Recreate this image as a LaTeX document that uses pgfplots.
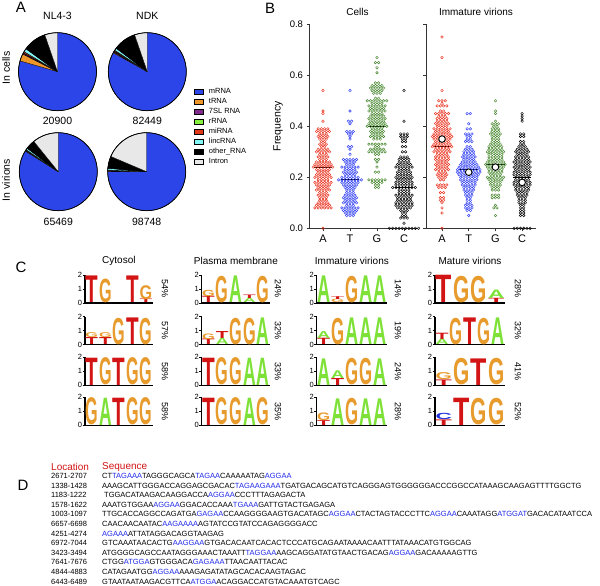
\documentclass[border=0pt]{standalone}
\usepackage{fontspec}
\setmainfont{Liberation Sans}
\usepackage{graphicx}
\usepackage{pgfplots}
\pgfplotsset{compat=1.18}
\definecolor{cmrna}{RGB}{43,69,233}
\definecolor{ctrna}{RGB}{238,150,40}
\definecolor{c7sl}{RGB}{128,40,140}
\definecolor{crrna}{RGB}{130,240,60}
\definecolor{cmirna}{RGB}{225,55,25}
\definecolor{clinc}{RGB}{130,245,245}
\definecolor{cintron}{RGB}{232,232,232}
\definecolor{sred}{RGB}{232,48,28}
\definecolor{sblue}{RGB}{45,60,240}
\definecolor{sgreen}{RGB}{70,135,45}
\definecolor{lgT}{RGB}{210,20,20}
\definecolor{lgG}{RGB}{232,155,45}
\definecolor{lgA}{RGB}{125,225,55}
\definecolor{lgC}{RGB}{30,50,220}
\definecolor{seqblue}{RGB}{30,40,230}
\definecolor{hdred}{RGB}{210,20,20}
\newcommand\B[1]{\textcolor{seqblue}{#1}}
\newcommand\logoL[1]{\resizebox*{#1}{\hh\dimexpr14pt\relax}{\color{lg\ltr}\bfseries\ltr}}
\pgfplotsset{
 /pgf/number format/assume math mode=true,
 pie/.style={x=39pt,y=39pt,xmin=-1,xmax=1,ymin=-1,ymax=1,hide axis,clip=false,clip mode=individual,anchor=origin},
 wedge/.style={fill=#1, draw=black, line width=0.35pt, line join=round, data cs=polar, mark=none, forget plot},
 bee/.style={only marks, mark=o, mark size=1.3pt, color=#1, mark options={line width=0.45pt, draw=#1}},
 med/.style={black, line width=0.9pt, mark=none},
 logo/.style n args={3}{at={(#1)}, anchor=south west, scale only axis, width=#2, height=28pt,
   xmin=0, xmax=#3, ymin=0, ymax=2, axis x line=bottom, axis y line=left,
   axis line style={-, line width=1.1pt, black}, xtick=\empty, ytick={0,1,2},
   tick align=outside, major tick length=2.5pt, tick style={line width=0.8pt, black},
   yticklabel style={font=\fontsize{7.5}{7.5}\selectfont, inner sep=0.3pt}, clip=false},
 letters/.style={draw=none, mark=none, nodes near coords={\logoL{#1}},
   visualization depends on={value \thisrow{h}\as\hh},
   visualization depends on={value \thisrow{l}\as\ltr},
   every node near coord/.append style={inner sep=0pt, outer sep=0pt, anchor=south}},
 freq/.style={scale only axis, height=204pt, ymin=0, ymax=0.8,
   axis x line=bottom, axis y line=left, axis line style={-, line width=0.9pt, black!80},
   xtick={0,1,2,3}, xticklabels={A,T,G,C}, ytick={0,0.2,0.4,0.6,0.8},
   tick align=outside, major tick length=3pt, tick style={line width=0.8pt, black!80},
   x tick label style={font=\fontsize{11}{12}\selectfont},
   y tick label style={font=\fontsize{9.5}{10}\selectfont}, clip=false, anchor=south west}
}
\begin{document}
\begin{tikzpicture}[x=1pt,y=1pt]
\useasboundingbox (0pt,0pt) rectangle (600pt,586pt);
% ---------------- Panel A ----------------
\node[font=\fontsize{15}{16}\selectfont] at (21pt,579pt) {A};
\node[font=\fontsize{10.5}{12}\selectfont] at (57.5pt,570.3pt) {NL4-3};
\node[font=\fontsize{10.5}{12}\selectfont] at (147.3pt,570.3pt) {NDK};
\node[font=\fontsize{10.5}{12}\selectfont, rotate=90] at (6pt,518pt) {In cells};
\node[font=\fontsize{10.5}{12}\selectfont, rotate=90] at (6pt,406pt) {In virions};
\node[font=\fontsize{10.5}{12}\selectfont] at (57.5pt,465.3pt) {20900};
\node[font=\fontsize{10.5}{12}\selectfont] at (147.3pt,465.3pt) {82449};
\node[font=\fontsize{10.5}{12}\selectfont] at (58.3pt,364.3pt) {65469};
\node[font=\fontsize{10.5}{12}\selectfont] at (146.7pt,364.3pt) {98748};

\begin{axis}[pie, at={(57.5pt,514.3pt)}]
\addplot[only marks, mark=*, mark size=39pt, mark options={fill=cmrna, draw=none}, forget plot] coordinates {(0,0)};
\addplot[wedge=ctrna] coordinates {(0,0) (164,1) (158.5,1) (153,1) (0,0)};
\addplot[wedge=c7sl] coordinates {(0,0) (153,1) (151.5,1) (0,0)};
\addplot[wedge=crrna] coordinates {(0,0) (151.5,1) (151,1) (0,0)};
\addplot[wedge=cmirna] coordinates {(0,0) (151,1) (149,1) (0,0)};
\addplot[wedge=clinc] coordinates {(0,0) (149,1) (144,1) (0,0)};
\addplot[wedge=black] coordinates {(0,0) (144,1) (135,1) (126,1) (117,1) (109,1) (0,0)};
\addplot[wedge=cintron] coordinates {(0,0) (109,1) (99.5,1) (90,1) (0,0)};
\addplot[only marks, mark=o, mark size=39pt, mark options={draw=black, line width=0.7pt}, forget plot] coordinates {(0,0)};
\end{axis}

\begin{axis}[pie, at={(147.3pt,514.3pt)},
  legend image code/.code={\draw[#1,draw=black,line width=0.4pt](0pt,-2.5pt) rectangle (9.4pt,2.5pt);},
  legend cell align=left,
  legend style={at={(axis description cs:1.09,0.29)}, anchor=north west, draw=none, fill=none,
    inner sep=0pt, row sep=3pt, font=\fontsize{7.5}{8}\selectfont,
    nodes={inner sep=0pt, text height=5.5pt, text depth=1.5pt},
    /tikz/every odd column/.append style={column sep=5.6pt}}]
\addplot[only marks, mark=*, mark size=39pt, mark options={fill=cmrna, draw=none}, forget plot] coordinates {(0,0)};
\addplot[wedge=ctrna] coordinates {(0,0) (151,1) (149.5,1) (0,0)};
\addplot[wedge=c7sl] coordinates {(0,0) (149.5,1) (148.5,1) (0,0)};
\addplot[wedge=crrna] coordinates {(0,0) (148.5,1) (148,1) (0,0)};
\addplot[wedge=cmirna] coordinates {(0,0) (148,1) (146.5,1) (0,0)};
\addplot[wedge=clinc] coordinates {(0,0) (146.5,1) (143,1) (0,0)};
\addplot[wedge=black] coordinates {(0,0) (143,1) (134,1) (126,1) (117,1) (109,1) (0,0)};
\addplot[wedge=cintron] coordinates {(0,0) (109,1) (99.5,1) (90,1) (0,0)};
\addplot[only marks, mark=o, mark size=39pt, mark options={draw=black, line width=0.7pt}, forget plot] coordinates {(0,0)};
\addlegendimage{fill=cmrna}\addlegendentry{mRNA}
\addlegendimage{fill=ctrna}\addlegendentry{tRNA}
\addlegendimage{fill=c7sl}\addlegendentry{7SL RNA}
\addlegendimage{fill=crrna}\addlegendentry{rRNA}
\addlegendimage{fill=cmirna}\addlegendentry{miRNA}
\addlegendimage{fill=clinc}\addlegendentry{lincRNA}
\addlegendimage{fill=black}\addlegendentry{other\_RNA}
\addlegendimage{fill=cintron}\addlegendentry{Intron}
\end{axis}

\begin{axis}[pie, at={(58.3pt,414.3pt)}]
\addplot[only marks, mark=*, mark size=39pt, mark options={fill=cmrna, draw=none}, forget plot] coordinates {(0,0)};
\addplot[wedge=ctrna] coordinates {(0,0) (148,1) (147.5,1) (0,0)};
\addplot[wedge=c7sl] coordinates {(0,0) (147.5,1) (147,1) (0,0)};
\addplot[wedge=crrna] coordinates {(0,0) (147,1) (146,1) (0,0)};
\addplot[wedge=cmirna] coordinates {(0,0) (146,1) (145.5,1) (0,0)};
\addplot[wedge=clinc] coordinates {(0,0) (145.5,1) (143,1) (0,0)};
\addplot[wedge=black] coordinates {(0,0) (143,1) (136,1) (129,1) (0,0)};
\addplot[wedge=cintron] coordinates {(0,0) (129,1) (120,1) (110,1) (100,1) (90,1) (0,0)};
\addplot[only marks, mark=o, mark size=39pt, mark options={draw=black, line width=0.7pt}, forget plot] coordinates {(0,0)};
\end{axis}

\begin{axis}[pie, at={(146.7pt,414.3pt)}]
\addplot[only marks, mark=*, mark size=39pt, mark options={fill=cmrna, draw=none}, forget plot] coordinates {(0,0)};
\addplot[wedge=ctrna] coordinates {(0,0) (180,1) (179,1) (0,0)};
\addplot[wedge=c7sl] coordinates {(0,0) (179,1) (178.5,1) (0,0)};
\addplot[wedge=crrna] coordinates {(0,0) (178.5,1) (178,1) (0,0)};
\addplot[wedge=cmirna] coordinates {(0,0) (178,1) (177.5,1) (0,0)};
\addplot[wedge=clinc] coordinates {(0,0) (177.5,1) (175,1) (0,0)};
\addplot[wedge=black] coordinates {(0,0) (175,1) (166,1) (157,1) (0,0)};
\addplot[wedge=cintron] coordinates {(0,0) (157,1) (147,1) (137,1) (127,1) (117,1) (107,1) (97,1) (90,1) (0,0)};
\addplot[only marks, mark=o, mark size=39pt, mark options={draw=black, line width=0.7pt}, forget plot] coordinates {(0,0)};
\end{axis}

% ---------------- Panel B ----------------
\node[font=\fontsize{15}{16}\selectfont] at (270pt,578pt) {B};
\node[font=\fontsize{10}{12}\selectfont] at (357.5pt,574pt) {Cells};
\node[font=\fontsize{10}{12}\selectfont] at (476pt,574pt) {Immature virions};

\begin{axis}[freq, at={(309.5pt,357.7pt)}, width=108pt, xmin=-0.5, xmax=3.5,
  yticklabels={0.0,0.2,0.4,0.6,0.8}, ylabel={Frequency},
  ylabel style={font=\fontsize{10.5}{12}\selectfont}]
\addplot[bee=sred] table[row sep=\\, x expr=0+0.12*\thisrow{d}, y=y] {d y\\
0 .54\\0 .46\\0 .45\\0 .42\\
-1.5 .39\\-.5 .39\\.5 .39\\1.5 .39\\
-2 .38\\-1 .38\\0 .38\\1 .38\\2 .38\\
-1 .37\\0 .37\\1 .37\\
-1.5 .36\\-.5 .36\\.5 .36\\1.5 .36\\
-1 .35\\0 .35\\1 .35\\
-.5 .34\\.5 .34\\
-1 .33\\0 .33\\1 .33\\
-.5 .32\\.5 .32\\
-1.5 .31\\-.5 .31\\.5 .31\\1.5 .31\\
-2 .30\\-1 .30\\0 .30\\1 .30\\2 .30\\
-1 .29\\0 .29\\1 .29\\
-1.5 .28\\-.5 .28\\.5 .28\\1.5 .28\\
-1 .27\\0 .27\\1 .27\\
-2 .26\\-1 .26\\0 .26\\1 .26\\2 .26\\
-2.5 .25\\-1.5 .25\\-.5 .25\\.5 .25\\1.5 .25\\2.5 .25\\
-3 .24\\-2 .24\\-1 .24\\0 .24\\1 .24\\2 .24\\3 .24\\
-2 .23\\-1 .23\\0 .23\\1 .23\\2 .23\\
-1.5 .22\\-.5 .22\\.5 .22\\1.5 .22\\
-2 .21\\-1 .21\\0 .21\\1 .21\\2 .21\\
-2.5 .20\\-1.5 .20\\-.5 .20\\.5 .20\\1.5 .20\\2.5 .20\\
-1.5 .19\\-.5 .19\\.5 .19\\1.5 .19\\
-2.5 .18\\-1.5 .18\\-.5 .18\\.5 .18\\1.5 .18\\2.5 .18\\
-2 .17\\-1 .17\\0 .17\\1 .17\\2 .17\\
-1.5 .16\\-.5 .16\\.5 .16\\1.5 .16\\
-2 .15\\-1 .15\\0 .15\\1 .15\\2 .15\\
-1 .14\\0 .14\\1 .14\\
-1.5 .13\\-.5 .13\\.5 .13\\1.5 .13\\
-1 .12\\0 .12\\1 .12\\
-1 .11\\0 .11\\1 .11\\
-1.5 .10\\-.5 .10\\.5 .10\\1.5 .10\\
-2 .09\\-1 .09\\0 .09\\1 .09\\2 .09\\
-2.5 .08\\-1.5 .08\\-.5 .08\\.5 .08\\1.5 .08\\2.5 .08\\
0 0\\};
\addplot[bee=sblue] table[row sep=\\, x expr=1+0.12*\thisrow{d}, y=y] {d y\\
0 .54\\0 .46\\-.5 .42\\.5 .42\\0 .41\\
-1 .38\\0 .38\\1 .38\\
-.5 .37\\.5 .37\\
0 .36\\0 .35\\
-.5 .32\\.5 .32\\0 .31\\0 .29\\
-2 .27\\-1 .27\\0 .27\\1 .27\\2 .27\\
-1.5 .26\\-.5 .26\\.5 .26\\1.5 .26\\
-1 .25\\0 .25\\1 .25\\
-2.5 .24\\-1.5 .24\\-.5 .24\\.5 .24\\1.5 .24\\2.5 .24\\
-1.5 .23\\-.5 .23\\.5 .23\\1.5 .23\\
-2 .22\\-1 .22\\0 .22\\1 .22\\2 .22\\
-1.5 .21\\-.5 .21\\.5 .21\\1.5 .21\\
-2.5 .20\\-1.5 .20\\-.5 .20\\.5 .20\\1.5 .20\\2.5 .20\\
-3.5 .19\\-2.5 .19\\-1.5 .19\\-.5 .19\\.5 .19\\1.5 .19\\2.5 .19\\3.5 .19\\
-2.5 .18\\-1.5 .18\\-.5 .18\\.5 .18\\1.5 .18\\2.5 .18\\
-2 .17\\-1 .17\\0 .17\\1 .17\\2 .17\\
-1.5 .16\\-.5 .16\\.5 .16\\1.5 .16\\
-1 .15\\0 .15\\1 .15\\
-1 .14\\0 .14\\1 .14\\
-1.5 .13\\-.5 .13\\.5 .13\\1.5 .13\\
-2 .12\\-1 .12\\0 .12\\1 .12\\2 .12\\
-1.5 .11\\-.5 .11\\.5 .11\\1.5 .11\\
-2 .10\\-1 .10\\0 .10\\1 .10\\2 .10\\
-1 .09\\0 .09\\1 .09\\
-2.5 .08\\-1.5 .08\\-.5 .08\\.5 .08\\1.5 .08\\2.5 .08\\
-2 .07\\-1 .07\\0 .07\\1 .07\\2 .07\\
-1.5 .06\\-.5 .06\\.5 .06\\1.5 .06\\
-1 .05\\0 .05\\1 .05\\};
\addplot[bee=sgreen] table[row sep=\\, x expr=2+0.12*\thisrow{d}, y=y] {d y\\
0 .67\\-.5 .65\\.5 .65\\0 .63\\0 .61\\
-.5 .57\\.5 .57\\
-1.5 .56\\-.5 .56\\.5 .56\\1.5 .56\\
-2 .55\\-1 .55\\0 .55\\1 .55\\2 .55\\
-1.5 .54\\-.5 .54\\.5 .54\\1.5 .54\\
-1 .53\\0 .53\\1 .53\\
-.5 .51\\.5 .51\\
-3 .50\\-2 .50\\-1 .50\\0 .50\\1 .50\\2 .50\\3 .50\\
-1.5 .49\\-.5 .49\\.5 .49\\1.5 .49\\
-2.5 .48\\-1.5 .48\\-.5 .48\\.5 .48\\1.5 .48\\2.5 .48\\
-2 .47\\-1 .47\\0 .47\\1 .47\\2 .47\\
-2.5 .46\\-1.5 .46\\-.5 .46\\.5 .46\\1.5 .46\\2.5 .46\\
-1.5 .45\\-.5 .45\\.5 .45\\1.5 .45\\
-2 .44\\-1 .44\\0 .44\\1 .44\\2 .44\\
-2.5 .43\\-1.5 .43\\-.5 .43\\.5 .43\\1.5 .43\\2.5 .43\\
-2 .42\\-1 .42\\0 .42\\1 .42\\2 .42\\
-2.5 .41\\-1.5 .41\\-.5 .41\\.5 .41\\1.5 .41\\2.5 .41\\
-3 .40\\-2 .40\\-1 .40\\0 .40\\1 .40\\2 .40\\3 .40\\
-1.5 .39\\-.5 .39\\.5 .39\\1.5 .39\\
-2 .38\\-1 .38\\0 .38\\1 .38\\2 .38\\
-1.5 .37\\-.5 .37\\.5 .37\\1.5 .37\\
-2 .36\\-1 .36\\0 .36\\1 .36\\2 .36\\
-1 .35\\0 .35\\1 .35\\
-2.5 .33\\-1.5 .33\\-.5 .33\\.5 .33\\1.5 .33\\2.5 .33\\
-.5 .32\\.5 .32\\
-2 .31\\-1 .31\\0 .31\\1 .31\\2 .31\\
-2.5 .30\\-1.5 .30\\-.5 .30\\.5 .30\\1.5 .30\\2.5 .30\\
-.5 .29\\.5 .29\\
-.5 .27\\.5 .27\\0 .26\\0 .24\\-.5 .22\\.5 .22\\
-2.5 .19\\-1.5 .19\\-.5 .19\\.5 .19\\1.5 .19\\2.5 .19\\
-1.5 .18\\-.5 .18\\.5 .18\\1.5 .18\\
-.5 .17\\.5 .17\\-.5 .16\\.5 .16\\};
\addplot[bee=black] table[row sep=\\, x expr=3+0.12*\thisrow{d}, y=y] {d y\\
0 .54\\0 .42\\
-1 .37\\0 .37\\1 .37\\
-1 .36\\0 .36\\1 .36\\
-.5 .35\\.5 .35\\-.5 .34\\.5 .34\\-.5 .32\\.5 .32\\-.5 .30\\.5 .30\\
-1 .28\\0 .28\\1 .28\\
-1.5 .27\\-.5 .27\\.5 .27\\1.5 .27\\
-1.5 .26\\-.5 .26\\.5 .26\\1.5 .26\\
-2 .25\\-1 .25\\0 .25\\1 .25\\2 .25\\
-2.5 .24\\-1.5 .24\\-.5 .24\\.5 .24\\1.5 .24\\2.5 .24\\
-1.5 .23\\-.5 .23\\.5 .23\\1.5 .23\\
-2 .22\\-1 .22\\0 .22\\1 .22\\2 .22\\
-2 .21\\-1 .21\\0 .21\\1 .21\\2 .21\\
-2.5 .20\\-1.5 .20\\-.5 .20\\.5 .20\\1.5 .20\\2.5 .20\\
-2 .19\\-1 .19\\0 .19\\1 .19\\2 .19\\
-2.5 .18\\-1.5 .18\\-.5 .18\\.5 .18\\1.5 .18\\2.5 .18\\
-2.5 .17\\-1.5 .17\\-.5 .17\\.5 .17\\1.5 .17\\2.5 .17\\
-3.5 .16\\-2.5 .16\\-1.5 .16\\-.5 .16\\.5 .16\\1.5 .16\\2.5 .16\\3.5 .16\\
-1.5 .15\\-.5 .15\\.5 .15\\1.5 .15\\
-1.5 .14\\-.5 .14\\.5 .14\\1.5 .14\\
-2.5 .13\\-1.5 .13\\-.5 .13\\.5 .13\\1.5 .13\\2.5 .13\\
-2 .12\\-1 .12\\0 .12\\1 .12\\2 .12\\
-2 .11\\-1 .11\\0 .11\\1 .11\\2 .11\\
-2.5 .10\\-1.5 .10\\-.5 .10\\.5 .10\\1.5 .10\\2.5 .10\\
-2.5 .09\\-1.5 .09\\-.5 .09\\.5 .09\\1.5 .09\\2.5 .09\\
-2 .08\\-1 .08\\0 .08\\1 .08\\2 .08\\
-1 .07\\0 .07\\1 .07\\
-.5 .06\\.5 .06\\-.5 .05\\.5 .05\\
-1 .04\\0 .04\\1 .04\\0 .02\\
-4.5 0\\-3.5 0\\-2.5 0\\-1.5 0\\-.5 0\\.5 0\\1.5 0\\2.5 0\\3.5 0\\4.5 0\\};
\addplot[med] coordinates {(-0.35,0.24) (0.35,0.24)};
\addplot[med] coordinates {(0.65,0.19) (1.35,0.19)};
\addplot[med] coordinates {(1.65,0.40) (2.35,0.40)};
\addplot[med] coordinates {(2.65,0.16) (3.35,0.16)};
\end{axis}

\begin{axis}[freq, at={(426pt,357.7pt)}, width=110pt, xmin=-0.6, xmax=3.52, yticklabels={}]
\addplot[bee=sred] table[row sep=\\, x expr=0+0.12*\thisrow{d}, y=y] {d y\\
0 .75\\0 .67\\0 .54\\
-1 .50\\0 .50\\1 .50\\0 .49\\
-1.5 .48\\-.5 .48\\.5 .48\\1.5 .48\\
-.5 .46\\.5 .46\\
-2 .45\\-1 .45\\0 .45\\1 .45\\2 .45\\
-1 .44\\0 .44\\1 .44\\
-1.5 .43\\-.5 .43\\.5 .43\\1.5 .43\\
-1.5 .42\\-.5 .42\\.5 .42\\1.5 .42\\
-2 .41\\-1 .41\\0 .41\\1 .41\\2 .41\\
-1.5 .40\\-.5 .40\\.5 .40\\1.5 .40\\
-2.5 .39\\-1.5 .39\\-.5 .39\\.5 .39\\1.5 .39\\2.5 .39\\
-2 .38\\-1 .38\\0 .38\\1 .38\\2 .38\\
-2.5 .37\\-1.5 .37\\-.5 .37\\.5 .37\\1.5 .37\\2.5 .37\\
-3 .36\\-2 .36\\-1 .36\\0 .36\\1 .36\\2 .36\\3 .36\\
-2.5 .35\\-1.5 .35\\-.5 .35\\.5 .35\\1.5 .35\\2.5 .35\\
-2 .34\\-1 .34\\0 .34\\1 .34\\2 .34\\
-2.5 .33\\-1.5 .33\\-.5 .33\\.5 .33\\1.5 .33\\2.5 .33\\
-3 .32\\-2 .32\\-1 .32\\0 .32\\1 .32\\2 .32\\3 .32\\
-2 .31\\-1 .31\\0 .31\\1 .31\\2 .31\\
-2.5 .30\\-1.5 .30\\-.5 .30\\.5 .30\\1.5 .30\\2.5 .30\\
-1.5 .29\\-.5 .29\\.5 .29\\1.5 .29\\
-2 .28\\-1 .28\\0 .28\\1 .28\\2 .28\\
-2 .27\\-1 .27\\0 .27\\1 .27\\2 .27\\
-1.5 .26\\-.5 .26\\.5 .26\\1.5 .26\\
-2 .25\\-1 .25\\0 .25\\1 .25\\2 .25\\
-1.5 .24\\-.5 .24\\.5 .24\\1.5 .24\\
-2 .23\\-1 .23\\0 .23\\1 .23\\2 .23\\
-1 .22\\0 .22\\1 .22\\
-1.5 .21\\-.5 .21\\.5 .21\\1.5 .21\\
-1 .20\\0 .20\\1 .20\\
-.5 .19\\.5 .19\\
-1.5 .17\\-.5 .17\\.5 .17\\1.5 .17\\
-1 .16\\0 .16\\1 .16\\
-.5 .14\\.5 .14\\-.5 .12\\.5 .12\\-.5 .11\\.5 .11\\0 .10\\0 .08\\0 .06\\0 0\\};
\addplot[bee=sblue] table[row sep=\\, x expr=1+0.12*\thisrow{d}, y=y] {d y\\
-.5 .45\\.5 .45\\0 .41\\-.5 .39\\.5 .39\\
-1 .37\\0 .37\\1 .37\\
-.5 .36\\.5 .36\\-.5 .35\\.5 .35\\
-1 .34\\0 .34\\1 .34\\
-.5 .32\\.5 .32\\
-1 .31\\0 .31\\1 .31\\
-1.5 .30\\-.5 .30\\.5 .30\\1.5 .30\\
-1.5 .29\\-.5 .29\\.5 .29\\1.5 .29\\
-2 .28\\-1 .28\\0 .28\\1 .28\\2 .28\\
-1.5 .27\\-.5 .27\\.5 .27\\1.5 .27\\
-2 .26\\-1 .26\\0 .26\\1 .26\\2 .26\\
-2.5 .25\\-1.5 .25\\-.5 .25\\.5 .25\\1.5 .25\\2.5 .25\\
-3 .24\\-2 .24\\-1 .24\\0 .24\\1 .24\\2 .24\\3 .24\\
-3.5 .23\\-2.5 .23\\-1.5 .23\\-.5 .23\\.5 .23\\1.5 .23\\2.5 .23\\3.5 .23\\
-3.5 .22\\-2.5 .22\\-1.5 .22\\-.5 .22\\.5 .22\\1.5 .22\\2.5 .22\\3.5 .22\\
-3 .21\\-2 .21\\-1 .21\\0 .21\\1 .21\\2 .21\\3 .21\\
-2.5 .20\\-1.5 .20\\-.5 .20\\.5 .20\\1.5 .20\\2.5 .20\\
-2.5 .19\\-1.5 .19\\-.5 .19\\.5 .19\\1.5 .19\\2.5 .19\\
-2 .18\\-1 .18\\0 .18\\1 .18\\2 .18\\
-2 .17\\-1 .17\\0 .17\\1 .17\\2 .17\\
-1.5 .16\\-.5 .16\\.5 .16\\1.5 .16\\
-1.5 .15\\-.5 .15\\.5 .15\\1.5 .15\\
-1 .14\\0 .14\\1 .14\\
-1 .13\\0 .13\\1 .13\\
-.5 .12\\.5 .12\\-.5 .11\\.5 .11\\-.5 .10\\.5 .10\\
-1 .09\\0 .09\\1 .09\\
-1 .08\\0 .08\\1 .08\\
-.5 .07\\.5 .07\\0 .05\\};
\addplot[bee=sgreen] table[row sep=\\, x expr=2+0.12*\thisrow{d}, y=y] {d y\\
0 .50\\0 .46\\0 .45\\0 .42\\
-1 .41\\0 .41\\1 .41\\
-.5 .40\\.5 .40\\
-1 .39\\0 .39\\1 .39\\
-1 .38\\0 .38\\1 .38\\
-1.5 .37\\-.5 .37\\.5 .37\\1.5 .37\\
-1 .36\\0 .36\\1 .36\\
-1 .35\\0 .35\\1 .35\\
-1 .34\\0 .34\\1 .34\\
-1.5 .33\\-.5 .33\\.5 .33\\1.5 .33\\
-2 .32\\-1 .32\\0 .32\\1 .32\\2 .32\\
-2 .31\\-1 .31\\0 .31\\1 .31\\2 .31\\
-2.5 .30\\-1.5 .30\\-.5 .30\\.5 .30\\1.5 .30\\2.5 .30\\
-2 .29\\-1 .29\\0 .29\\1 .29\\2 .29\\
-2 .28\\-1 .28\\0 .28\\1 .28\\2 .28\\
-2 .27\\-1 .27\\0 .27\\1 .27\\2 .27\\
-2.5 .26\\-1.5 .26\\-.5 .26\\.5 .26\\1.5 .26\\2.5 .26\\
-3 .25\\-2 .25\\-1 .25\\0 .25\\1 .25\\2 .25\\3 .25\\
-2.5 .24\\-1.5 .24\\-.5 .24\\.5 .24\\1.5 .24\\2.5 .24\\
-2 .23\\-1 .23\\0 .23\\1 .23\\2 .23\\
-2 .22\\-1 .22\\0 .22\\1 .22\\2 .22\\
-1.5 .21\\-.5 .21\\.5 .21\\1.5 .21\\
-2.5 .20\\-1.5 .20\\-.5 .20\\.5 .20\\1.5 .20\\2.5 .20\\
-2 .19\\-1 .19\\0 .19\\1 .19\\2 .19\\
-1.5 .18\\-.5 .18\\.5 .18\\1.5 .18\\
-1.5 .17\\-.5 .17\\.5 .17\\1.5 .17\\
-1 .16\\0 .16\\1 .16\\
-1 .15\\0 .15\\1 .15\\
-1 .13\\0 .13\\1 .13\\
-1 .12\\0 .12\\1 .12\\
0 .09\\-.5 .08\\.5 .08\\0 .05\\};
\addplot[bee=black] table[row sep=\\, x expr=3+0.12*\thisrow{d}, y=y] {d y\\
0 .45\\0 .44\\0 .43\\0 .42\\
-.5 .37\\.5 .37\\-.5 .36\\.5 .36\\-.5 .34\\.5 .34\\-.5 .33\\.5 .33\\
-1 .32\\0 .32\\1 .32\\
-1.5 .31\\-.5 .31\\.5 .31\\1.5 .31\\
-2 .30\\-1 .30\\0 .30\\1 .30\\2 .30\\
-1.5 .29\\-.5 .29\\.5 .29\\1.5 .29\\
-2 .28\\-1 .28\\0 .28\\1 .28\\2 .28\\
-2 .27\\-1 .27\\0 .27\\1 .27\\2 .27\\
-2.5 .26\\-1.5 .26\\-.5 .26\\.5 .26\\1.5 .26\\2.5 .26\\
-2 .25\\-1 .25\\0 .25\\1 .25\\2 .25\\
-2.5 .24\\-1.5 .24\\-.5 .24\\.5 .24\\1.5 .24\\2.5 .24\\
-2 .23\\-1 .23\\0 .23\\1 .23\\2 .23\\
-2.5 .22\\-1.5 .22\\-.5 .22\\.5 .22\\1.5 .22\\2.5 .22\\
-2.5 .21\\-1.5 .21\\-.5 .21\\.5 .21\\1.5 .21\\2.5 .21\\
-2 .20\\-1 .20\\0 .20\\1 .20\\2 .20\\
-2 .19\\-1 .19\\0 .19\\1 .19\\2 .19\\
-2.5 .18\\-1.5 .18\\-.5 .18\\.5 .18\\1.5 .18\\2.5 .18\\
-2.5 .17\\-1.5 .17\\-.5 .17\\.5 .17\\1.5 .17\\2.5 .17\\
-2 .16\\-1 .16\\0 .16\\1 .16\\2 .16\\
-2 .15\\-1 .15\\0 .15\\1 .15\\2 .15\\
-1.5 .14\\-.5 .14\\.5 .14\\1.5 .14\\
-1.5 .13\\-.5 .13\\.5 .13\\1.5 .13\\
-1 .12\\0 .12\\1 .12\\
-1 .11\\0 .11\\1 .11\\
-1 .10\\0 .10\\1 .10\\
-.5 .09\\.5 .09\\-.5 .08\\.5 .08\\-.5 .07\\.5 .07\\-.5 .06\\.5 .06\\-.5 .05\\.5 .05\\
-2.5 0\\-1.5 0\\-.5 0\\.5 0\\1.5 0\\2.5 0\\};
\addplot[med] coordinates {(-0.35,0.32) (0.35,0.32)};
\addplot[med] coordinates {(0.65,0.23) (1.35,0.23)};
\addplot[med] coordinates {(1.65,0.25) (2.35,0.25)};
\addplot[med] coordinates {(2.65,0.20) (3.35,0.20)};
\addplot[only marks, mark=*, mark size=3.3pt, mark options={fill=white, draw=black, line width=0.9pt}] coordinates {(0,0.35) (1,0.22) (2,0.24) (3,0.18)};
\end{axis}

% ---------------- Panel C ----------------
\node[font=\fontsize{15}{16}\selectfont] at (21pt,319pt) {C};
\node[font=\fontsize{10}{12}\selectfont] at (118.9pt,325pt) {Cytosol};
\node[font=\fontsize{10}{12}\selectfont] at (235.9pt,325pt) {Plasma membrane};
\node[font=\fontsize{10}{12}\selectfont] at (351.9pt,325pt) {Immature virions};
\node[font=\fontsize{10}{12}\selectfont] at (470pt,325pt) {Mature virions};

% column 1: Cytosol
\begin{axis}[logo={85pt,283pt}{67.7pt}{5}]
\addplot[letters=12.6pt] table[row sep=\\] {x y h l\\0.5 0 1.9 T\\1.5 0 1.7 G\\3.5 0 1.9 T\\4.5 0 0.25 T\\4.5 0.25 1.0 G\\};
\end{axis}
\begin{axis}[logo={85pt,241.3pt}{67.7pt}{5}]
\addplot[letters=12.6pt] table[row sep=\\] {x y h l\\0.5 0 0.5 T\\0.5 0.5 0.35 G\\1.5 0 0.5 T\\1.5 0.5 0.35 G\\2.5 0 1.9 G\\3.5 0 1.9 T\\4.5 0 1.9 G\\};
\end{axis}
\begin{axis}[logo={85pt,200.7pt}{67.7pt}{5}]
\addplot[letters=12.6pt] table[row sep=\\] {x y h l\\0.5 0 1.95 T\\1.5 0 1.95 G\\2.5 0 1.95 T\\3.5 0 1.95 G\\4.5 0 1.95 G\\};
\end{axis}
\begin{axis}[logo={85pt,160.7pt}{67.7pt}{5}]
\addplot[letters=12.6pt] table[row sep=\\] {x y h l\\0.5 0 1.95 G\\1.5 0 1.95 A\\2.5 0 1.95 T\\3.5 0 1.95 G\\4.5 0 1.95 G\\};
\end{axis}
% column 2: Plasma membrane
\begin{axis}[logo={201.7pt,283pt}{68.3pt}{5}]
\addplot[letters=12.7pt] table[row sep=\\] {x y h l\\0.5 0 0.45 T\\0.5 0.45 0.45 G\\1.5 0 1.9 G\\2.5 0 1.9 A\\3.5 0 0.3 A\\3.5 0.3 0.25 T\\4.5 0 1.9 G\\};
\end{axis}
\begin{axis}[logo={201.7pt,241.3pt}{68.3pt}{5}]
\addplot[letters=12.7pt] table[row sep=\\] {x y h l\\0.5 0 0.4 T\\0.5 0.4 0.4 G\\1.5 0 0.45 A\\1.5 0.45 0.5 T\\2.5 0 1.9 G\\3.5 0 1.9 G\\4.5 0 1.9 A\\};
\end{axis}
\begin{axis}[logo={201.7pt,200.7pt}{68.3pt}{5}]
\addplot[letters=12.7pt] table[row sep=\\] {x y h l\\0.5 0 1.95 T\\1.5 0 1.95 G\\2.5 0 1.95 G\\3.5 0 1.95 A\\4.5 0 1.95 A\\};
\end{axis}
\begin{axis}[logo={201.7pt,160.7pt}{68.3pt}{5}]
\addplot[letters=12.7pt] table[row sep=\\] {x y h l\\0.5 0 1.95 T\\1.5 0 1.95 G\\2.5 0 1.95 G\\3.5 0 1.95 A\\4.5 0 1.95 G\\};
\end{axis}
% column 3: Immature virions
\begin{axis}[logo={316.7pt,283pt}{70.3pt}{5}]
\addplot[letters=13.1pt] table[row sep=\\] {x y h l\\0.5 0 1.9 A\\1.5 0 0.25 G\\1.5 0.25 0.2 T\\2.5 0 1.9 G\\3.5 0 1.9 A\\4.5 0 1.9 A\\};
\end{axis}
\begin{axis}[logo={316.7pt,241.3pt}{70.3pt}{5}]
\addplot[letters=13.1pt] table[row sep=\\] {x y h l\\0.5 0 0.45 T\\0.5 0.45 0.5 A\\1.5 0 1.9 G\\2.5 0 1.9 A\\3.5 0 1.9 A\\4.5 0 1.9 A\\};
\end{axis}
\begin{axis}[logo={316.7pt,200.7pt}{70.3pt}{5}]
\addplot[letters=13.1pt] table[row sep=\\] {x y h l\\0.5 0 1.9 A\\1.5 0 0.5 T\\1.5 0.5 0.55 A\\2.5 0 1.9 G\\3.5 0 1.9 G\\4.5 0 1.9 A\\};
\end{axis}
\begin{axis}[logo={316.7pt,160.7pt}{70.3pt}{5}]
\addplot[letters=13.1pt] table[row sep=\\] {x y h l\\0.5 0 0.35 T\\0.5 0.35 0.55 G\\1.5 0 1.9 A\\2.5 0 1.9 G\\3.5 0 1.9 A\\4.5 0 1.9 A\\};
\end{axis}
% column 4: Mature virions
\begin{axis}[logo={435pt,283pt}{70pt}{4}]
\addplot[letters=16.3pt] table[row sep=\\] {x y h l\\0.5 0 1.95 T\\1.5 0 1.9 G\\2.5 0 1.9 G\\3.5 0 0.3 T\\3.5 0.3 0.6 A\\};
\end{axis}
\begin{axis}[logo={435pt,241.3pt}{70pt}{5}]
\addplot[letters=13pt] table[row sep=\\] {x y h l\\0.5 0 0.4 A\\0.5 0.4 0.45 T\\1.5 0 1.9 G\\2.5 0 1.9 T\\3.5 0 1.9 G\\4.5 0 1.9 A\\};
\end{axis}
\begin{axis}[logo={435pt,200.7pt}{70pt}{4}]
\addplot[letters=16.3pt] table[row sep=\\] {x y h l\\0.5 0 0.4 T\\0.5 0.4 0.5 G\\1.5 0 1.9 G\\2.5 0 1.9 T\\3.5 0 1.9 G\\};
\end{axis}
\begin{axis}[logo={435pt,160.7pt}{70pt}{4}]
\addplot[letters=16.3pt] table[row sep=\\] {x y h l\\0.5 0 0.4 T\\0.5 0.4 0.45 C\\1.5 0 1.95 T\\2.5 0 1.9 G\\3.5 0 1.9 G\\};
\end{axis}

\foreach \px/\py/\t in {165/297/54,165/255.3/57,165/214.7/58,165/174.7/58,
  278/297/24,278/255.3/32,278/214.7/33,278/174.7/35,
  398/297/14,398/255.3/19,398/214.7/24,398/174.7/28,
  518/297/28,518/255.3/32,518/214.7/41,518/174.7/52}
  \node[font=\fontsize{9}{10}\selectfont, rotate=-90] at (\px pt,\py pt) {\t\%};

% ---------------- Panel D ----------------
\node[font=\fontsize{15}{16}\selectfont] at (23pt,101pt) {D};
\node[font=\fontsize{10}{12}\selectfont, text=hdred, anchor=west, inner sep=0pt] at (51pt,119pt) {Location};
\node[font=\fontsize{10}{12}\selectfont, text=hdred, anchor=west, inner sep=0pt] at (102pt,119pt) {Sequence};
\begin{scope}[every node/.style={font=\fontsize{7.5}{8}\selectfont, anchor=west, inner sep=0pt}]
\node at (51pt,110pt) {2671-2707}; \node at (102pt,110pt) {CT\B{TAGAAA}TAGGGCAGCA\B{TAGAA}CAAAAATAG\B{AGGAA}};
\node at (51pt,100.4pt) {1338-1428}; \node at (102pt,100.4pt) {AAAGCATTGGGACCAGGAGCGACAC\B{TAGAAGAAA}TGATGACAGCATGTCAGGGAGTGGGGGGACCCGGCCATAAAGCAAGAGTTTTGGCTG};
\node at (51pt,90.8pt) {1183-1222}; \node at (104pt,90.8pt) {TGGACATAAGACAAGGACCA\B{AGGAA}CCCTTTAGAGACTA};
\node at (51pt,81.2pt) {1578-1622}; \node at (102pt,81.2pt) {AAATGTGGAA\B{AGGAA}GGACACCAAA\B{TGAAA}GATTGTACTGAGAGA};
\node at (51pt,71.6pt) {1003-1097}; \node at (102pt,71.6pt) {TTGCACCAGGCCAGATGA\B{GAGAA}CCAAGGGGAAGTGACATAGC\B{AGGAA}CTACTAGTACCCTTC\B{AGGAA}CAAATAGG\B{ATGGAT}GACACATAATCCA};
\node at (51pt,62pt) {6657-6698}; \node at (102pt,62pt) {CAACAACAATAC\B{AAGAAAA}AGTATCCGTATCCAGAGGGGACC};
\node at (51pt,52.4pt) {4251-4274}; \node at (102pt,52.4pt) {\B{AGAAA}ATTATAGGACAGGTAAGAG};
\node at (51pt,42.8pt) {6972-7044}; \node at (102pt,42.8pt) {GTCAAATAACACTG\B{AAGGAA}GTGACACAATCACACTCCCATGCAGAATAAAACAATTTATAAACATGTGGCAG};
\node at (51pt,33.2pt) {3423-3494}; \node at (102pt,33.2pt) {ATGGGGCAGCCAATAGGGAAACTAAATT\B{TAGGAA}AAGCAGGATATGTAACTGACAG\B{AGGAA}GACAAAAAGTTG};
\node at (51pt,23.6pt) {7641-7676}; \node at (102pt,23.6pt) {CTGG\B{ATGGA}GTGGGACA\B{GAGAAA}TTAACAATTACAC};
\node at (51pt,14pt) {4844-4883}; \node at (102pt,14pt) {CATAGAATGG\B{AGGAA}AAAGAGATATAGCACACAAGTAGAC};
\node at (51pt,4.4pt) {6443-6489}; \node at (102pt,4.4pt) {GTAATAATAAGACGTTCA\B{ATGGA}ACAGGACCATGTACAAATGTCAGC};
\end{scope}
\end{tikzpicture}
\end{document}
